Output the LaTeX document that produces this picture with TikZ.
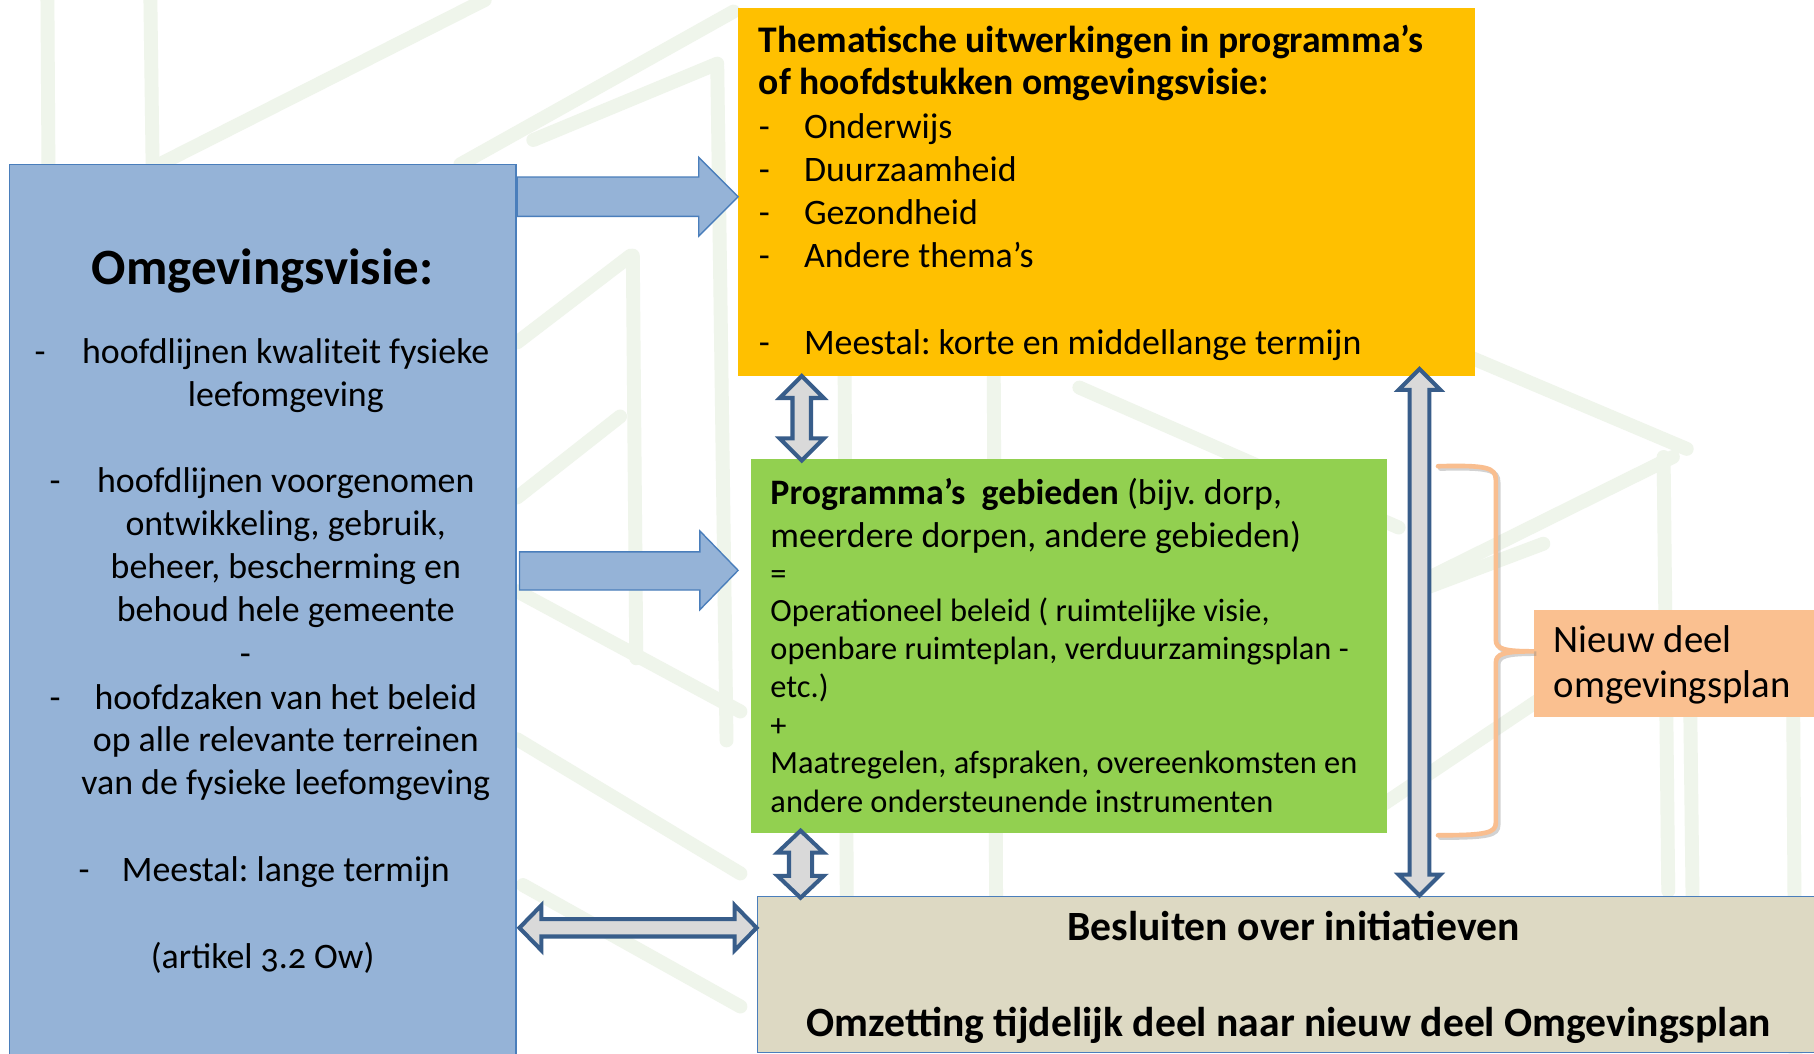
\documentclass[tikz,border=0pt]{standalone}
\usepackage{fontspec}
\setmainfont{Carlito}
\newfontfamily\oldnumfont[Numbers=OldStyle]{Carlito}
\definecolor{bluefill}{HTML}{95B3D7}
\definecolor{blueborder}{HTML}{4A7EBB}
\definecolor{orangefill}{HTML}{FFC000}
\definecolor{greenfill}{HTML}{92D050}
\definecolor{tanfill}{HTML}{DDD9C3}
\definecolor{salmonfill}{HTML}{FAC090}
\definecolor{bracecol}{HTML}{F9BE8F}
\definecolor{darkarrow}{HTML}{385D8A}
\definecolor{grayfill}{HTML}{D9D9D9}
\definecolor{bgstrokecol}{HTML}{EFF5EB}
\newcommand{\vdarw}[6]{%
 \draw[dblarrow] (#1,#2) -- ({#1+#4},{#2+#5}) -- ({#1+#6},{#2+#5}) -- ({#1+#6},{#3-#5}) -- ({#1+#4},{#3-#5}) -- (#1,#3) -- ({#1-#4},{#3-#5}) -- ({#1-#6},{#3-#5}) -- ({#1-#6},{#2+#5}) -- ({#1-#4},{#2+#5}) -- cycle;}
\newcommand{\hdarw}[6]{%
 \draw[dblarrow] (#2,#1) -- ({#2+#5},{#1-#4}) -- ({#2+#5},{#1-#6}) -- ({#3-#5},{#1-#6}) -- ({#3-#5},{#1-#4}) -- (#3,#1) -- ({#3-#5},{#1+#4}) -- ({#3-#5},{#1+#6}) -- ({#2+#5},{#1+#6}) -- ({#2+#5},{#1+#4}) -- cycle;}
\tikzset{
  txt/.style={inner sep=0pt, outer sep=0pt, anchor=base west, font=\fontsize{31}{37}\selectfont},
  txtc/.style={txt, anchor=base},
  small/.style={txt, font=\fontsize{28}{33}\selectfont},
  big/.style={txtc, font=\fontsize{36}{42}\selectfont\bfseries},
  hbold/.style={txt, font=\fontsize{32.5}{38}\selectfont\bfseries},
  box/.style={inner sep=0pt, outer sep=0pt, anchor=north west},
  blockarrow/.style={fill=bluefill, draw=blueborder, line width=1.2pt, line join=miter},
  dblarrow/.style={fill=grayfill, draw=darkarrow, line width=3.5pt, line join=miter, miter limit=3},
  bgstroke/.style={draw=bgstrokecol, line width=12pt, line cap=round},
}
\frenchspacing
\begin{document}
\begin{tikzpicture}[x=1pt,y=-1pt]
\useasboundingbox (0,0) rectangle (1568,911);
\fill[white] (0,0) rectangle (1568,911);
% faint background strokes
\draw[bgstroke] (41,0) -- (43,330);
\draw[bgstroke] (130,0) -- (132,150);
\draw[bgstroke] (138,142) -- (419,0);
\draw[bgstroke] (398,142) -- (634,10);
\draw[bgstroke] (461,121) -- (620,55);
\draw[bgstroke] (620,58) -- (628,640);
\draw[bgstroke] (447,296) -- (545,221);
\draw[bgstroke] (547,221) -- (550,569);
\draw[bgstroke] (447,430) -- (536,360);
\draw[bgstroke] (447,511) -- (640,615);
\draw[bgstroke] (447,639) -- (640,755);
\draw[bgstroke] (452,765) -- (640,870);
\draw[bgstroke] (730,300) -- (732,800);
\draw[bgstroke] (859,326) -- (861,775);
\draw[bgstroke] (933,335) -- (1209,456);
\draw[bgstroke] (1250,300) -- (1458,388);
\draw[bgstroke] (1236,499) -- (1446,395);
\draw[bgstroke] (1438,395) -- (1442,770);
\draw[bgstroke] (1193,697) -- (1366,581);
\draw[bgstroke] (1233,508) -- (1334,470);
\draw[bgstroke] (1461,610) -- (1463,775);
\draw[bgstroke] (1550,610) -- (1552,911);

% boxes
\node[box, fill=bluefill, draw=blueborder, line width=1.2pt, minimum width=438, minimum height=770] (visie) at (8,142) {};
\node[box, fill=orangefill, minimum width=637, minimum height=318] (thema) at (638,7) {};
\node[box, fill=greenfill, minimum width=550, minimum height=323] (gebied) at (649,397) {};
\node[box, fill=tanfill, draw=blueborder, line width=1.2pt, minimum width=920, minimum height=135] (besluit) at (655,775) {};
\node[box, fill=salmonfill, minimum width=250, minimum height=93] (nieuw) at (1326,527) {};

% blue block arrows
\draw[blockarrow] (447,153) -- (604,153) -- (604,136) -- (638,170) -- (604,204) -- (604,187) -- (447,187) -- cycle;
\draw[blockarrow] (449,477) -- (605,477) -- (605,459) -- (638,493) -- (605,527) -- (605,510) -- (449,510) -- cycle;

% double arrows
\vdarw{693}{325}{398}{19}{19}{8}
\vdarw{692}{718}{776}{20}{19}{10}
\vdarw{1227}{319}{774}{18}{18}{8.5}
\hdarw{802}{449}{654}{19.5}{19}{7.5}

% brace
\draw[gray, opacity=0.35, line width=4pt, line cap=round, shift={(2,2)}]
  (1243,403) .. controls (1285,402) and (1293,404) .. (1293,415) -- (1293,553)
  .. controls (1293,561) and (1300,563) .. (1326,563)
  .. controls (1300,563) and (1293,565) .. (1293,573) -- (1293,711)
  .. controls (1293,720) and (1285,722) .. (1243,722);
\draw[bracecol, line width=4pt, line cap=round]
  (1243,403) .. controls (1285,402) and (1293,404) .. (1293,415) -- (1293,553)
  .. controls (1293,561) and (1300,563) .. (1326,563)
  .. controls (1300,563) and (1293,565) .. (1293,573) -- (1293,711)
  .. controls (1293,720) and (1285,722) .. (1243,722);

% blue box text
\node[txtc, font=\fontsize{44}{52}\selectfont\bfseries] (vtitle) at (227,246) {Omgevingsvisie:};
\node[txt] (vd1) at (30,314) {-};
\node[txtc] (v1) at (247,314) {hoofdlijnen kwaliteit fysieke};
\node[txtc] (v2) at (247,351) {leefomgeving};
\node[txt] (vd2) at (43,426) {-};
\node[txtc] (v3) at (247,426) {hoofdlijnen voorgenomen};
\node[txtc] (v4) at (247,463) {ontwikkeling, gebruik,};
\node[txtc] (v5) at (247,500) {beheer, bescherming en};
\node[txtc] (v6) at (247,537) {behoud hele gemeente};
\node[txtc] (vd3) at (212,575) {-};
\node[txt] (vd4) at (43,613) {-};
\node[txtc] (v7) at (247,613) {hoofdzaken van het beleid};
\node[txtc] (v8) at (247,650) {op alle relevante terreinen};
\node[txtc] (v9) at (247,687) {van de fysieke leefomgeving};
\node[txt] (vd5) at (68,762) {-};
\node[txtc] (v10) at (247,762) {Meestal: lange termijn};
\node[txtc] (v11) at (227,837) {(artikel {\oldnumfont 3.2} Ow)};

% orange box text
\node[hbold] (t1) at (656,45) {Thematische uitwerkingen in programma’s};
\node[hbold] (t2) at (656,82) {of hoofdstukken omgevingsvisie:};
\node[txt] (td1) at (656,120) {-};
\node[txt] (t3) at (695,120) {Onderwijs};
\node[txt] (td2) at (656,157) {-};
\node[txt] (t4) at (695,157) {Duurzaamheid};
\node[txt] (td3) at (656,194) {-};
\node[txt] (t5) at (695,194) {Gezondheid};
\node[txt] (td4) at (656,231) {-};
\node[txt] (t6) at (695,231) {Andere thema’s};
\node[txt] (td5) at (656,306) {-};
\node[txt] (t7) at (695,306) {Meestal: korte en middellange termijn};

% green box text
\node[txt] (g1) at (666,436) {\textbf{Programma’s\ \ gebieden} (bijv. dorp,};
\node[txt] (g2) at (666,473) {meerdere dorpen, andere gebieden)};
\node[small] (g3) at (666,505) {=};
\node[small] (g4) at (666,537) {Operationeel beleid ( ruimtelijke visie,};
\node[small] (g5) at (666,570) {openbare ruimteplan, verduurzamingsplan -};
\node[small] (g6) at (666,603) {etc.)};
\node[small] (g7) at (666,637) {+};
\node[small] (g8) at (666,669) {Maatregelen, afspraken, overeenkomsten en};
\node[small] (g9) at (666,702) {andere ondersteunende instrumenten};

% tan box text
\node[big] (b1) at (1118,813) {Besluiten over initiatieven};
\node[big] (b2) at (1114,896) {Omzetting tijdelijk deel naar nieuw deel Omgevingsplan};

% salmon box text
\node[txt, font=\fontsize{33.5}{39}\selectfont] (n1) at (1343,564) {Nieuw deel};
\node[txt, font=\fontsize{33.5}{39}\selectfont] (n2) at (1343,603) {omgevingsplan};
\end{tikzpicture}
\end{document}
